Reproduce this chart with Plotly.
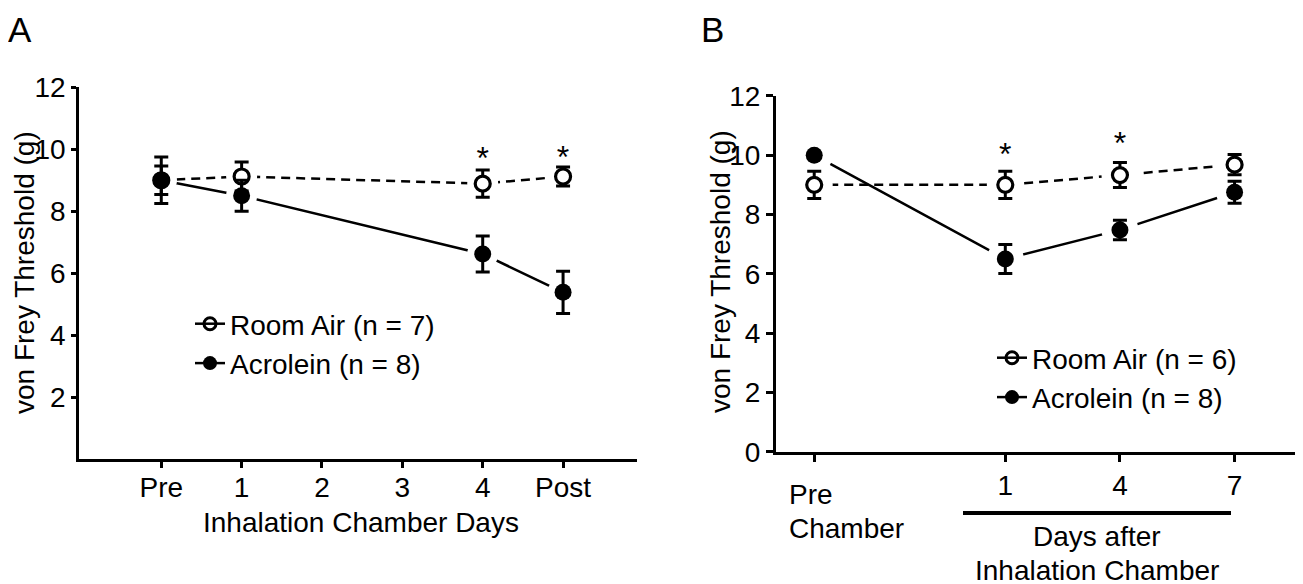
import plotly.graph_objects as go

# ---------------- data ----------------
# Panel A
cats_a = ["Pre", "1", "2", "3", "4", "Post"]
x_a = ["Pre", "1", "4", "Post"]
room_a = [9.0, 9.12, 8.89, 9.12]
room_a_err = [0.75, 0.47, 0.44, 0.31]
acro_a = [9.0, 8.5, 6.62, 5.38]
acro_a_err = [0.46, 0.5, 0.58, 0.68]
star_a_x = ["4", "Post"]
star_a_y = [9.62, 9.64]
yticks_a = [2, 4, 6, 8, 10, 12]

# Panel B
x_b = [-4, 1, 4, 7]
xtick_b_text = ["", "1", "4", "7"]
room_b = [9.0, 9.0, 9.33, 9.68]
room_b_err = [0.46, 0.46, 0.42, 0.34]
acro_b = [10.0, 6.5, 7.48, 8.75]
acro_b_err = [0.05, 0.49, 0.33, 0.37]
star_b_x = [1, 4]
star_b_y = [9.93, 10.31]
yticks_b = [0, 2, 4, 6, 8, 10, 12]

legend_a = ["Room Air (n = 7)", "Acrolein (n = 8)"]
legend_b = ["Room Air (n = 6)", "Acrolein (n = 8)"]

# ---------------- layout helpers ----------------
W, H = 1303, 584
OFF = 8  # page body margin offset
FONT = "Liberation Sans, Arial, sans-serif"


def px(x):
    return (x - OFF) / W


def py(y):
    return 1 - (y - OFF) / H


fig = go.Figure()

DASH = "9px,6px"
LW = 2.5


def add_panel(xv, room, room_err, acro, acro_err, xa, ya, halo, legend_name, names):
    # connecting lines
    fig.add_trace(go.Scatter(x=xv, y=room, mode="lines", xaxis=xa, yaxis=ya,
                             line=dict(color="black", width=LW, dash=DASH),
                             showlegend=False, hoverinfo="skip"))
    fig.add_trace(go.Scatter(x=xv, y=acro, mode="lines", xaxis=xa, yaxis=ya,
                             line=dict(color="black", width=LW),
                             showlegend=False, hoverinfo="skip"))
    # white halos to open gaps around the points
    for yy in (room, acro):
        fig.add_trace(go.Scatter(x=xv, y=yy, mode="markers", xaxis=xa, yaxis=ya,
                                 marker=dict(symbol="circle", size=halo, color="white",
                                             line=dict(width=0)),
                                 showlegend=False, hoverinfo="skip"))
    # points with error bars
    fig.add_trace(go.Scatter(x=xv, y=room, mode="markers", xaxis=xa, yaxis=ya,
                             error_y=dict(type="data", array=room_err, color="black",
                                          thickness=3, width=7),
                             marker=dict(symbol="circle", size=15, color="white",
                                         line=dict(color="black", width=3.2)),
                             showlegend=False))
    fig.add_trace(go.Scatter(x=xv, y=acro, mode="markers", xaxis=xa, yaxis=ya,
                             error_y=dict(type="data", array=acro_err, color="black",
                                          thickness=3, width=7),
                             marker=dict(symbol="circle", size=17, color="black",
                                         line=dict(width=0)),
                             showlegend=False))
    # legend-only entries
    fig.add_trace(go.Scatter(x=[None], y=[None], mode="lines+markers", xaxis=xa, yaxis=ya,
                             name=names[0], legend=legend_name,
                             line=dict(color="black", width=2.5),
                             marker=dict(symbol="circle-open", size=12, color="black",
                                         line=dict(color="black", width=3))))
    fig.add_trace(go.Scatter(x=[None], y=[None], mode="lines+markers", xaxis=xa, yaxis=ya,
                             name=names[1], legend=legend_name,
                             line=dict(color="black", width=2.5),
                             marker=dict(symbol="circle", size=14, color="black")))


add_panel(x_a, room_a, room_a_err, acro_a, acro_a_err, "x", "y", 31, "legend", legend_a)
add_panel(x_b, room_b, room_b_err, acro_b, acro_b_err, "x2", "y2", 37, "legend2", legend_b)

# significance stars
fig.add_trace(go.Scatter(x=star_a_x, y=star_a_y, mode="text", text=["*"] * len(star_a_x),
                         textfont=dict(size=32, color="black", family=FONT),
                         xaxis="x", yaxis="y", showlegend=False, hoverinfo="skip"))
fig.add_trace(go.Scatter(x=star_b_x, y=star_b_y, mode="text", text=["*"] * len(star_b_x),
                         textfont=dict(size=32, color="black", family=FONT),
                         xaxis="x2", yaxis="y2", showlegend=False, hoverinfo="skip"))

axis_common = dict(showgrid=False, zeroline=False, showline=True, linecolor="black",
                   linewidth=3, ticks="outside", tickcolor="black", tickwidth=3,
                   automargin=False,
                   tickfont=dict(family=FONT, size=28, color="black"), fixedrange=True)

fig.update_layout(
    template="none",
    width=W, height=H, autosize=False,
    margin=dict(l=0, r=0, t=0, b=0, pad=0),
    paper_bgcolor="white", plot_bgcolor="white",
    font=dict(family=FONT, color="black"),
    xaxis=dict(axis_common, domain=[px(79.3), px(637)], type="category",
               categoryorder="array", categoryarray=cats_a, range=[-1.02, 5.92],
               ticklen=6, anchor="y", ticklabelstandoff=-5),
    yaxis=dict(axis_common, domain=[py(459), py(87.3)], range=[0, 12],
               tickvals=yticks_a, ticklen=5, anchor="x"),
    xaxis2=dict(axis_common, domain=[px(776), px(1303)], range=[-5.0, 8.79],
                tickvals=x_b, ticktext=xtick_b_text, ticklen=7, anchor="y2",
                ticklabelstandoff=0),
    yaxis2=dict(axis_common, domain=[py(451.7), py(95.9)], range=[0, 12],
                tickvals=yticks_b, ticklen=7, anchor="x2"),
    legend=dict(x=px(190), y=py(299), xanchor="left", yanchor="top",
                font=dict(family=FONT, size=28, color="black"),
                bgcolor="rgba(0,0,0,0)", itemwidth=30, tracegroupgap=0),
    legend2=dict(x=px(992), y=py(333), xanchor="left", yanchor="top",
                 font=dict(family=FONT, size=28, color="black"),
                 bgcolor="rgba(0,0,0,0)", itemwidth=30, tracegroupgap=0),
    showlegend=True,
)

ann = []


def add_text(text, x, y, size, xanchor="center", angle=0, yanchor="middle"):
    ann.append(dict(text=text, x=px(x), y=py(y), xref="paper", yref="paper",
                    xanchor=xanchor, yanchor=yanchor, showarrow=False, textangle=angle,
                    font=dict(family=FONT, size=size, color="black")))


add_text("A", 6, 8, 35, xanchor="left", yanchor="top")
add_text("B", 699, 8, 35, xanchor="left", yanchor="top")
add_text("von Frey Threshold (g)", 24, 273, 28, angle=-90)
add_text("von Frey Threshold (g)", 720, 272, 28, angle=-90)
add_text("Inhalation Chamber Days", 361, 522, 28)
add_text("Pre", 787, 495, 28, xanchor="left")
add_text("Chamber", 787, 528, 28, xanchor="left")
add_text("Days after", 1097, 536, 28)
add_text("Inhalation Chamber", 1097, 570, 28)
fig.update_layout(annotations=ann)

fig.add_shape(type="line", xref="paper", yref="paper",
              x0=px(963), x1=px(1231), y0=py(513), y1=py(513),
              line=dict(color="black", width=4))

fig.write_html("out.html")
